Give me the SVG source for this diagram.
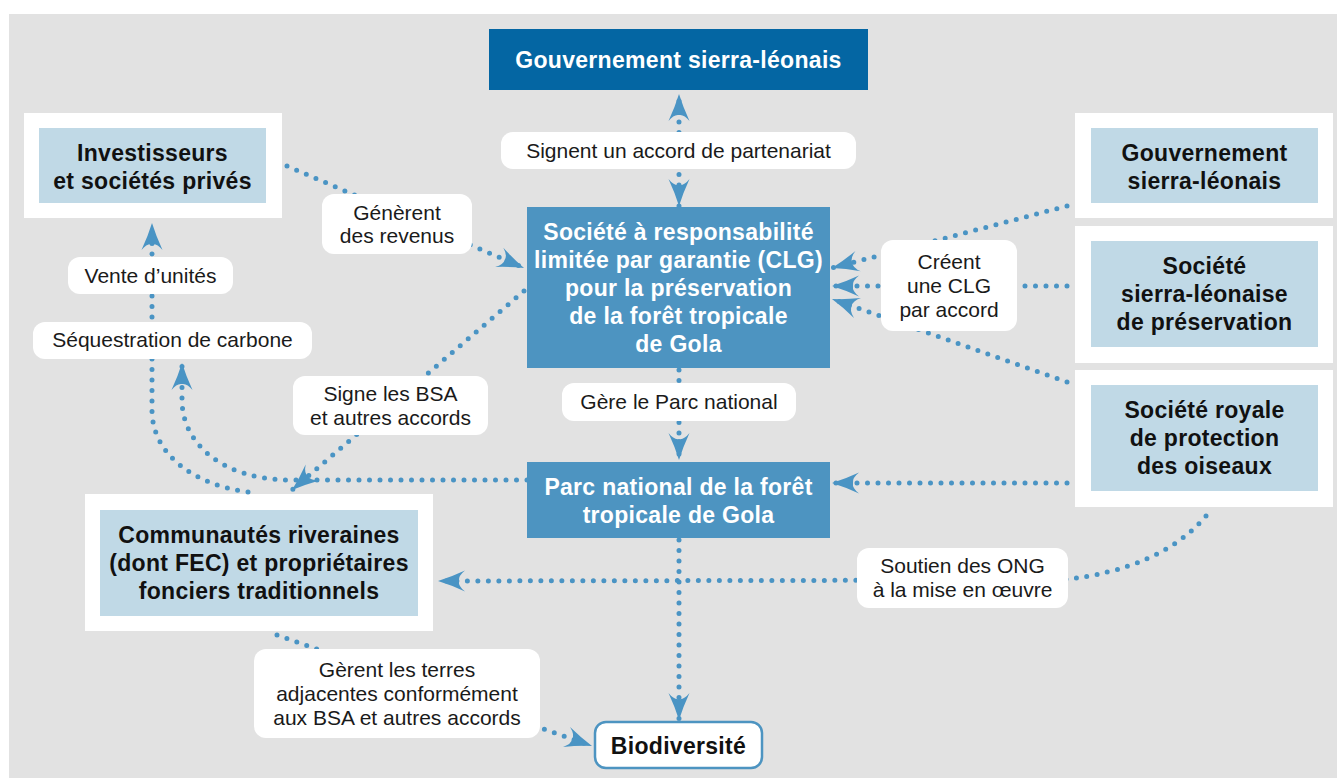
<svg xmlns="http://www.w3.org/2000/svg" width="1337" height="778" viewBox="0 0 1337 778">
<style>
.dark{fill:#0466a3}
.mid{fill:#4d94c1}
.outer{fill:#fff}
.inner{fill:#c0d9e6}
.nt{font-family:"Liberation Sans",Arial,sans-serif;font-weight:bold;font-size:23px;letter-spacing:0.3px;text-anchor:middle}
.w{fill:#fff}
.k{fill:#111}
.lb{fill:#fff}
.lt{font-family:"Liberation Sans",Arial,sans-serif;font-size:21px;text-anchor:middle;fill:#1a1a1a}
.c{fill:none;stroke:#4a94c4;stroke-width:5;stroke-linecap:round;stroke-dasharray:0 10.5}
</style>
<defs>
<marker id="ah" markerUnits="userSpaceOnUse" markerWidth="40" markerHeight="40" viewBox="-30 -20 40 40" refX="0" refY="0" orient="auto-start-reverse" overflow="visible">
<path d="M0,0 Q-13,-4 -27,-10.5 Q-20,-5 -21,0 Q-20,5 -27,10.5 Q-13,4 0,0 Z" fill="#4a94c4"/>
</marker>
</defs>
<rect x="0" y="0" width="1337" height="778" fill="#fff"/>
<rect x="9" y="14" width="1328" height="764" fill="#e2e2e2"/>

<g id="gov-top">
<rect class="dark" x="489" y="29" width="379" height="61"/>
<text class="nt w" x="678.5" y="68">Gouvernement sierra-léonais</text>
</g>
<g id="clg">
<rect class="mid" x="527" y="207" width="303" height="161"/>
<text class="nt w" x="678.5" y="240">Société à responsabilité</text>
<text class="nt w" x="678.5" y="268">limitée par garantie (CLG)</text>
<text class="nt w" x="678.5" y="296">pour la préservation</text>
<text class="nt w" x="678.5" y="324">de la forêt tropicale</text>
<text class="nt w" x="678.5" y="352">de Gola</text>
</g>
<g id="parc">
<rect class="mid" x="527" y="462" width="303" height="76"/>
<text class="nt w" x="678.5" y="495">Parc national de la forêt</text>
<text class="nt w" x="678.5" y="523">tropicale de Gola</text>
</g>
<g id="investisseurs">
<rect class="outer" x="24" y="113" width="258" height="105"/>
<rect class="inner" x="39" y="128" width="227" height="75"/>
<text class="nt k" x="152.5" y="161">Investisseurs</text>
<text class="nt k" x="152.5" y="189">et sociétés privés</text>
</g>
<g id="gov-right">
<rect class="outer" x="1075" y="113" width="258" height="105"/>
<rect class="inner" x="1091" y="128" width="227" height="75"/>
<text class="nt k" x="1204.5" y="161">Gouvernement</text>
<text class="nt k" x="1204.5" y="189">sierra-léonais</text>
</g>
<g id="ssp">
<rect class="outer" x="1075" y="226" width="258" height="137"/>
<rect class="inner" x="1091" y="241" width="227" height="106"/>
<text class="nt k" x="1204.5" y="274">Société</text>
<text class="nt k" x="1204.5" y="302">sierra-léonaise</text>
<text class="nt k" x="1204.5" y="330">de préservation</text>
</g>
<g id="rspb">
<rect class="outer" x="1075" y="370" width="258" height="137"/>
<rect class="inner" x="1091" y="385" width="227" height="106"/>
<text class="nt k" x="1204.5" y="418">Société royale</text>
<text class="nt k" x="1204.5" y="446">de protection</text>
<text class="nt k" x="1204.5" y="474">des oiseaux</text>
</g>
<g id="communautes">
<rect class="outer" x="85" y="494" width="348" height="137"/>
<rect class="inner" x="100" y="510" width="318" height="106"/>
<text class="nt k" x="259" y="543">Communautés riveraines</text>
<text class="nt k" x="259" y="571">(dont FEC) et propriétaires</text>
<text class="nt k" x="259" y="599">fonciers traditionnels</text>
</g>
<g id="biodiversite">
<rect x="595" y="722" width="167" height="46" rx="11" fill="#fff" stroke="#4d94c1" stroke-width="2.5"/>
<text class="nt k" x="678.5" y="754">Biodiversité</text>
</g>

<g id="connectors">
<path class="c" d="M679,206 L679,94" marker-start="url(#ah)" marker-end="url(#ah)"/>
<path class="c" d="M287,166 L524,268" marker-end="url(#ah)"/>
<path class="c" d="M1067,206 L832,268" marker-end="url(#ah)"/>
<path class="c" d="M1067,286 L832,286" marker-end="url(#ah)"/>
<path class="c" d="M1067,382 L832,299" marker-end="url(#ah)"/>
<path class="c" d="M1067,483 L832,483" marker-end="url(#ah)"/>
<path class="c" d="M1206,516 Q1160,570 1060,580 L438,581" marker-end="url(#ah)"/>
<path class="c" d="M679,370 L679,460" marker-end="url(#ah)"/>
<path class="c" d="M679,540 L679,720" marker-end="url(#ah)"/>
<path class="c" d="M527,480 L290,480 C225,480 182,445 182,400 L182,363" marker-end="url(#ah)"/>
<path class="c" d="M524,291 L292,490" marker-end="url(#ah)"/>
<path class="c" d="M248,492 C195,485 152,455 152,410 L152,223" marker-end="url(#ah)"/>
<path class="c" d="M277,635 L592,746" marker-end="url(#ah)"/>
</g>

<g id="labels">
<rect class="lb" x="501" y="132" width="355" height="37" rx="12"/>
<text class="lt" x="678.5" y="158">Signent un accord de partenariat</text>
<rect class="lb" x="322" y="194" width="150" height="60" rx="12"/>
<text class="lt" x="397" y="220">Génèrent</text>
<text class="lt" x="397" y="243">des revenus</text>
<rect class="lb" x="881" y="240" width="136" height="91" rx="12"/>
<text class="lt" x="949" y="269">Créent</text>
<text class="lt" x="949" y="293">une CLG</text>
<text class="lt" x="949" y="317">par accord</text>
<rect class="lb" x="68" y="257" width="165" height="37" rx="12"/>
<text class="lt" x="150.5" y="283">Vente d’unités</text>
<rect class="lb" x="33" y="322" width="279" height="37" rx="12"/>
<text class="lt" x="172.5" y="347">Séquestration de carbone</text>
<rect class="lb" x="293" y="376" width="195" height="59" rx="12"/>
<text class="lt" x="390.5" y="401">Signe les BSA</text>
<text class="lt" x="390.5" y="425">et autres accords</text>
<rect class="lb" x="562" y="383" width="234" height="38" rx="12"/>
<text class="lt" x="679" y="409">Gère le Parc national</text>
<rect class="lb" x="857" y="548" width="211" height="60" rx="12"/>
<text class="lt" x="962.5" y="573">Soutien des ONG</text>
<text class="lt" x="962.5" y="597">à la mise en œuvre</text>
<rect class="lb" x="254" y="649" width="286" height="89" rx="12"/>
<text class="lt" x="397" y="677">Gèrent les terres</text>
<text class="lt" x="397" y="701">adjacentes conformément</text>
<text class="lt" x="397" y="725">aux BSA et autres accords</text>
</g>
</svg>
